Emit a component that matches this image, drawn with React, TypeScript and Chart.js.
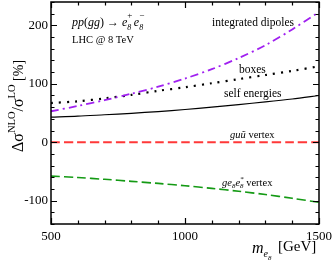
import React, { useEffect, useRef } from "react";
import { Chart, registerables } from "chart.js";

Chart.register(...registerables);

const masses = [500, 600, 700, 800, 900, 1000, 1100, 1200, 1300, 1400, 1500];
const integratedDipoles = [53, 62, 72, 83, 95, 109, 125, 144, 166, 193, 223];
const boxes = [67, 70, 75, 81, 88, 94, 101, 108, 115, 122, 130];
const selfEnergies = [43, 44.5, 47, 49.5, 52.5, 56, 60, 64.5, 69, 74, 80];
const guuVertex = [0, 0, 0, 0, 0, 0, 0, 0, 0, 0, 0];
const geeVertex = [-58, -60.5, -63.5, -67, -70.5, -74.5, -79, -84, -89.5, -96, -103];

const xTickLabels = [500, 1000, 1500];
const yTickLabels = [-100, 0, 100, 200];

const SERIF = "'Liberation Serif', 'Times New Roman', serif";

function drawRich(ctx: CanvasRenderingContext2D, parts: { t: string; size: number; dy?: number; italic?: boolean }[], x: number, y: number) {
  let cx = x;
  for (const p of parts) {
    ctx.font = `${p.italic ? "italic " : ""}${p.size}px ${SERIF}`;
    ctx.fillText(p.t, cx, y + (p.dy || 0));
    cx += ctx.measureText(p.t).width;
  }
  return cx;
}

const framePlugin = {
  id: "frame",
  afterDraw(chart: any) {
    const ctx: CanvasRenderingContext2D = chart.ctx;
    const { left, right, top, bottom } = chart.chartArea;
    const xs = chart.scales.x;
    const ys = chart.scales.y;
    ctx.save();
    ctx.strokeStyle = "#000";
    ctx.lineWidth = 1.5;
    ctx.strokeRect(left, top, right - left, bottom - top);
    ctx.lineWidth = 1.2;
    for (let v = 500; v <= 1500; v += 100) {
      const px = Math.round(xs.getPixelForValue(v)) + 0.5;
      const len = v % 500 === 0 ? 6 : 3.5;
      ctx.beginPath();
      ctx.moveTo(px, bottom);
      ctx.lineTo(px, bottom - len);
      ctx.moveTo(px, top);
      ctx.lineTo(px, top + len);
      ctx.stroke();
    }
    for (let v = -140; v <= 240; v += 20) {
      const py = Math.round(ys.getPixelForValue(v)) + 0.5;
      const len = v % 100 === 0 ? 6 : 3.5;
      ctx.beginPath();
      ctx.moveTo(left, py);
      ctx.lineTo(left + len, py);
      ctx.moveTo(right, py);
      ctx.lineTo(right - len, py);
      ctx.stroke();
    }
    // annotations
    ctx.fillStyle = "#000";
    ctx.textBaseline = "middle";
    ctx.textAlign = "left";
    let cx = drawRich(ctx, [
      { t: "pp", size: 12, italic: true },
      { t: "(", size: 12 },
      { t: "gg", size: 12, italic: true },
      { t: ") \u2192 ", size: 12 },
      { t: "e", size: 12, italic: true },
    ], 72, 23);
    ctx.font = `italic 8px ${SERIF}`;
    ctx.fillText("8", cx, 28);
    ctx.font = `9px ${SERIF}`;
    ctx.fillText("+", cx, 16);
    cx += 6.5;
    ctx.font = `italic 12px ${SERIF}`;
    ctx.fillText("e", cx, 23);
    cx += ctx.measureText("e").width;
    ctx.font = `italic 8px ${SERIF}`;
    ctx.fillText("8", cx, 28);
    ctx.font = `9px ${SERIF}`;
    ctx.fillText("\u2212", cx, 16);

    ctx.font = `10.5px ${SERIF}`;
    ctx.fillText("LHC @ 8 TeV", 72, 40);

    ctx.font = `11.5px ${SERIF}`;
    ctx.fillText("integrated dipoles", 212, 23);
    ctx.fillText("boxes", 239, 70);
    ctx.fillText("self energies", 224, 94);

    drawRich(ctx, [
      { t: "gu\u0169", size: 10.5, italic: true },
      { t: " vertex", size: 10.5 },
    ], 230, 135);

    cx = drawRich(ctx, [
      { t: "ge", size: 10.5, italic: true },
    ], 222, 183);
    ctx.font = `italic 7px ${SERIF}`;
    ctx.fillText("8", cx, 186.5);
    cx += ctx.measureText("8").width;
    ctx.font = `italic 10.5px ${SERIF}`;
    ctx.fillText("e", cx, 183);
    cx += ctx.measureText("e").width;
    ctx.font = `italic 7px ${SERIF}`;
    ctx.fillText("8", cx, 186.5);
    ctx.fillText("*", cx, 179);
    cx += ctx.measureText("8").width;
    ctx.font = `10.5px ${SERIF}`;
    ctx.fillText(" vertex", cx, 183);

    // x axis title
    cx = drawRich(ctx, [{ t: "m", size: 16, italic: true }], 252, 249);
    ctx.font = `italic 10px ${SERIF}`;
    ctx.fillText("e", cx, 254);
    cx += ctx.measureText("e").width;
    ctx.font = `italic 7px ${SERIF}`;
    ctx.fillText("8", cx, 258);
    ctx.font = `15px ${SERIF}`;
    ctx.fillText("[GeV]", 278, 247);

    // y axis title
    ctx.save();
    ctx.translate(23, 152);
    ctx.rotate(-Math.PI / 2);
    ctx.textBaseline = "alphabetic";
    drawRich(ctx, [
      { t: "\u0394\u03c3", size: 16 },
      { t: "NLO", size: 10.5, dy: -8 },
      { t: "/", size: 16 },
      { t: "\u03c3", size: 16 },
      { t: "LO", size: 10.5, dy: -8 },
      { t: " [%]", size: 14 },
    ], 0, 0);
    ctx.restore();

    ctx.restore();
  },
};

export default function App() {
  const ref = useRef<HTMLCanvasElement>(null);
  useEffect(() => {
    document.body.style.margin = "0";
    Chart.defaults.font.family = SERIF;
    const ds = (label: string, data: number[], color: string, width: number, dash: number[]) => ({
      label,
      data: masses.map((m, i) => ({ x: m, y: data[i] })),
      borderColor: color,
      borderWidth: width,
      borderDash: dash,
      pointRadius: 0,
      tension: 0.3,
      fill: false,
    });
    const chart = new Chart(ref.current!, {
      type: "line",
      data: {
        datasets: [
          ds("integrated dipoles", integratedDipoles, "#a020f0", 1.8, [8, 4, 2, 4]),
          ds("boxes", boxes, "#000000", 2.2, [2, 6]),
          ds("self energies", selfEnergies, "#000000", 1.2, []),
          ds("guu vertex", guuVertex, "#ff3838", 2, [9, 4]),
          ds("ge8e8 vertex", geeVertex, "#149a14", 1.6, [9, 4]),
        ],
      },
      options: {
        animation: false,
        responsive: false,
        events: [],
        layout: { padding: { top: 2, right: 13, left: 0, bottom: 0 } },
        plugins: { legend: { display: false }, tooltip: { enabled: false } },
        scales: {
          x: {
            type: "linear",
            min: 500,
            max: 1500,
            grid: { display: false, drawTicks: false },
            border: { display: false },
            afterFit: (s: any) => { s.height = 39; s.paddingLeft = 0; s.paddingRight = 0; },
            afterBuildTicks: (s: any) => { s.ticks = xTickLabels.map((v) => ({ value: v })); },
            ticks: {
              padding: 5,
              maxRotation: 0,
              autoSkip: false,
              color: "#000",
              font: { family: SERIF, size: 13 },
              callback: (v: any) => String(v),
            },
          },
          y: {
            type: "linear",
            min: -140,
            max: 240,
            grid: { display: false, drawTicks: false },
            border: { display: false },
            afterFit: (s: any) => { s.width = 51; s.paddingTop = 0; s.paddingBottom = 0; },
            afterBuildTicks: (s: any) => { s.ticks = yTickLabels.map((v) => ({ value: v })); },
            ticks: {
              padding: 3,
              autoSkip: false,
              color: "#000",
              font: { family: SERIF, size: 13 },
              callback: (v: any) => String(v),
            },
          },
        },
      },
      plugins: [framePlugin],
    });
    return () => chart.destroy();
  }, []);
  return <canvas ref={ref} width={332} height={263} style={{ display: "block" }} />;
}
